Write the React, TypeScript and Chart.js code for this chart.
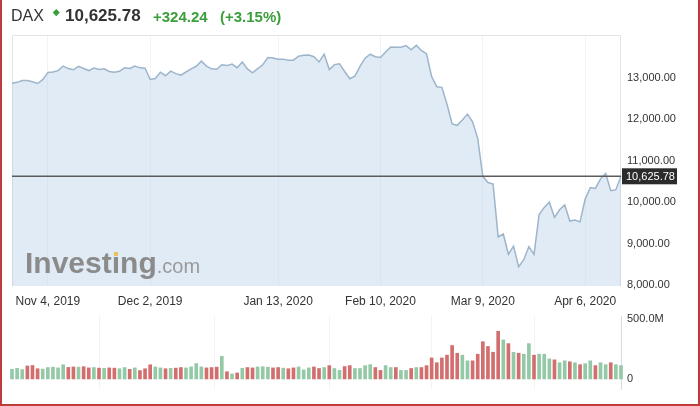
import React, { useEffect, useRef } from "react";
import { Chart, registerables } from "chart.js";

Chart.register(...registerables);

// ---- data ----
const tradingDays: [string, number[]][] = [
  ["2019-10", [24, 25, 28, 29, 30, 31]],
  ["2019-11", [1, 4, 5, 6, 7, 8, 11, 12, 13, 14, 15, 18, 19, 20, 21, 22, 25, 26, 27, 28, 29]],
  ["2019-12", [2, 3, 4, 5, 6, 9, 10, 11, 12, 13, 16, 17, 18, 19, 20, 23, 27, 30]],
  ["2020-01", [2, 3, 6, 7, 8, 9, 10, 13, 14, 15, 16, 17, 20, 21, 22, 23, 24, 27, 28, 29, 30, 31]],
  ["2020-02", [3, 4, 5, 6, 7, 10, 11, 12, 13, 14, 17, 18, 19, 20, 21, 24, 25, 26, 27, 28]],
  ["2020-03", [2, 3, 4, 5, 6, 9, 10, 11, 12, 13, 16, 17, 18, 19, 20, 23, 24, 25, 26, 27, 30, 31]],
  ["2020-04", [1, 2, 3, 6, 7, 8, 9, 14, 15, 16, 17]],
];
const dates = tradingDays.flatMap(([m, ds]) => ds.map((d) => `${m}-${String(d).padStart(2, "0")}`));

const tickDates = ["2019-11-04", "2019-12-02", "2020-01-13", "2020-02-10", "2020-03-09", "2020-04-06"];
const tickLabels = ["Nov 4, 2019", "Dec 2, 2019", "Jan 13, 2020", "Feb 10, 2020", "Mar 9, 2020", "Apr 6, 2020"];

const closes = [
  12872, 12895, 12941, 12939, 12910, 12867, 12961, 13136, 13148, 13179,
  13289, 13228, 13198, 13283, 13230, 13180, 13241, 13207, 13221, 13158,
  13137, 13163, 13246, 13232, 13287, 13245, 13236, 12965, 12989, 13140,
  13055, 13167, 13106, 13071, 13145, 13222, 13283, 13407, 13288, 13222,
  13212, 13319, 13300, 13337, 13249, 13386, 13219, 13127, 13227, 13321,
  13495, 13483, 13452, 13456, 13432, 13430, 13526, 13549, 13556, 13515,
  13389, 13577, 13205, 13324, 13345, 13158, 12982, 13046, 13282, 13479,
  13575, 13514, 13494, 13627, 13750, 13745, 13745, 13784, 13681, 13789,
  13665, 13580, 13035, 12790, 12775, 12367, 11890, 11857, 11986, 12128,
  11944, 11542, 10625, 10475, 10439, 9161, 9232, 8742, 8939, 8442,
  8610, 8929, 8742, 9701, 9875, 10001, 9633, 9816, 9936, 9544,
  9571, 9526, 10075, 10356, 10333, 10565, 10697, 10280, 10302, 10625.78,
];

// volume in millions
const volumes = [
  80, 88, 78, 108, 112, 85, 82, 95, 98, 92,
  118, 96, 100, 98, 102, 92, 95, 90, 88, 92,
  90, 85, 95, 80, 92, 70, 85, 118, 100, 92,
  85, 88, 90, 95, 92, 100, 128, 100, 92, 95,
  98, 188, 60, 42, 50, 88, 95, 92, 100, 102,
  98, 92, 95, 90, 85, 92, 100, 75, 92, 100,
  87, 95, 111, 87, 71, 103, 111, 87, 87, 111,
  119, 95, 71, 111, 95, 95, 71, 71, 87, 95,
  95, 111, 175, 135, 175, 198, 278, 214, 198, 151,
  151, 206, 310, 270, 222, 397, 325, 294, 222, 214,
  206, 294, 198, 206, 206, 167, 159, 135, 151, 143,
  135, 119, 127, 151, 111, 135, 119, 135, 119, 111,
];

const priceTicks = [8000, 9000, 10000, 11000, 12000, 13000];
const volumeTicks = [0, 500];

const symbol = "DAX";
const lastPrice = 10625.78;
const change = 324.24;
const changePct = 3.15;

const FONT = "Arial, 'Liberation Sans', Helvetica, sans-serif";
const GREEN = "#3a9f3a";

const fmt2 = (v: number) =>
  v.toLocaleString("en-US", { minimumFractionDigits: 2, maximumFractionDigits: 2 });

export default function App() {
  const priceRef = useRef<HTMLCanvasElement>(null);
  const volRef = useRef<HTMLCanvasElement>(null);

  useEffect(() => {
    Chart.defaults.font.family = FONT;
    Chart.defaults.color = "#333";
    const tickIdx = tickDates.map((d) => dates.indexOf(d));
    const setXTicks = (scale: any) => {
      scale.ticks = tickIdx.map((v) => ({ value: v }));
    };

    const framePlugin = {
      id: "frameAndLast",
      beforeDatasetsDraw(chart: any) {
        const { ctx, chartArea } = chart;
        ctx.save();
        ctx.strokeStyle = "#e3e3e3";
        ctx.lineWidth = 1;
        ctx.beginPath();
        ctx.moveTo(chartArea.left + 0.5, chartArea.bottom);
        ctx.lineTo(chartArea.left + 0.5, chartArea.top + 0.5);
        ctx.lineTo(chartArea.right - 0.5, chartArea.top + 0.5);
        ctx.lineTo(chartArea.right - 0.5, chartArea.bottom);
        ctx.stroke();
        ctx.restore();
      },
      afterDatasetsDraw(chart: any) {
        const { ctx, chartArea } = chart;
        const y = chart.scales.y.getPixelForValue(lastPrice);
        ctx.save();
        ctx.strokeStyle = "#5c5c5c";
        ctx.lineWidth = 1.6;
        ctx.beginPath();
        ctx.moveTo(chartArea.left, y);
        ctx.lineTo(chartArea.right, y);
        ctx.stroke();
        ctx.fillStyle = "#2b2b2b";
        ctx.fillRect(chartArea.right + 1, y - 8, 55, 16);
        ctx.fillStyle = "#ffffff";
        ctx.font = `11px ${FONT}`;
        ctx.textAlign = "left";
        ctx.textBaseline = "middle";
        ctx.fillText(fmt2(lastPrice), chartArea.right + 5, y + 0.5);
        ctx.restore();
      },
    };

    const priceChart = new Chart(priceRef.current!, {
      type: "line",
      data: {
        labels: dates,
        datasets: [
          {
            data: closes,
            borderColor: "#9db5cb",
            borderWidth: 1.5,
            backgroundColor: "rgba(176,203,230,0.38)",
            fill: "start",
            pointRadius: 0,
            tension: 0,
          },
        ],
      },
      options: {
        animation: false,
        responsive: false,
        devicePixelRatio: 1,
        layout: { padding: { left: 12, top: 35, right: 0, bottom: 0 } },
        plugins: { legend: { display: false }, tooltip: { enabled: false } },
        scales: {
          x: {
            type: "category",
            offset: false,
            afterBuildTicks: setXTicks,
            afterFit: (s: any) => {
              s.height = 26;
            },
            grid: { color: "#f1f4f7", drawTicks: false },
            border: { display: false },
            ticks: {
              autoSkip: false,
              maxRotation: 0,
              padding: 8,
              color: "#333",
              font: { size: 12 },
              callback: (v: any) => tickLabels[tickIdx.indexOf(Number(v))],
            },
          },
          y: {
            position: "right",
            min: 7976,
            max: 14039,
            afterBuildTicks: (s: any) => {
              s.ticks = priceTicks.map((v) => ({ value: v }));
            },
            afterFit: (s: any) => {
              s.width = 79;
            },
            grid: { display: false, drawTicks: false },
            border: { display: false },
            ticks: {
              padding: 6,
              color: "#333",
              font: { size: 11 },
              callback: (v: any) => fmt2(Number(v)),
            },
          },
        },
      },
      plugins: [framePlugin],
    });

    const volChart = new Chart(volRef.current!, {
      type: "bar",
      data: {
        labels: dates,
        datasets: [
          {
            data: volumes,
            backgroundColor: volumes.map((_, i) =>
              i === 0 || closes[i] >= closes[i - 1] ? "#94c9a7" : "#d26e6e"
            ),
            barThickness: 3,
            clip: false as any,
          },
        ],
      },
      options: {
        animation: false,
        responsive: false,
        devicePixelRatio: 1,
        layout: { padding: { left: 12, top: 14, right: 0, bottom: 5 } },
        plugins: { legend: { display: false }, tooltip: { enabled: false } },
        scales: {
          x: {
            type: "category",
            offset: false,
            afterBuildTicks: setXTicks,
            afterFit: (s: any) => {
              s.height = 0;
            },
            grid: { color: "#f3f3f3", drawTicks: false },
            border: { display: false },
            ticks: { display: false },
          },
          y: {
            position: "right",
            min: -87,
            max: 524,
            afterBuildTicks: (s: any) => {
              s.ticks = volumeTicks.map((v) => ({ value: v }));
            },
            afterFit: (s: any) => {
              s.width = 79;
            },
            grid: { display: false, drawTicks: false },
            border: { display: true, color: "#d3dbe5" },
            ticks: {
              padding: 6,
              color: "#333",
              font: { size: 11 },
              callback: (v: any) => (Number(v) === 0 ? "0" : Number(v).toFixed(1) + "M"),
            },
          },
        },
      },
    });

    return () => {
      priceChart.destroy();
      volChart.destroy();
    };
  }, []);

  return (
    <div
      style={{
        position: "fixed",
        left: 0,
        top: 0,
        width: 700,
        height: 406,
        background: "#fff",
        overflow: "hidden",
        fontFamily: FONT,
      }}
    >
      <canvas ref={priceRef} width={700} height={312} style={{ position: "absolute", left: 0, top: 0 }} />
      <canvas ref={volRef} width={700} height={100} style={{ position: "absolute", left: 0, top: 302 }} />

      {/* header */}
      <div style={{ position: "absolute", left: 11, top: 7.7, fontSize: 16, lineHeight: 1, color: "#333", whiteSpace: "nowrap" }}>
        {symbol}
      </div>
      <div
        style={{
          position: "absolute",
          left: 54,
          top: 9.5,
          width: 4.5,
          height: 4.5,
          background: GREEN,
          transform: "rotate(45deg)",
        }}
      />
      <div style={{ position: "absolute", left: 65, top: 6.9, fontSize: 17, fontWeight: "bold", lineHeight: 1, color: "#333", whiteSpace: "nowrap" }}>
        {fmt2(lastPrice)}
      </div>
      <div style={{ position: "absolute", left: 153, top: 8.5, fontSize: 15, fontWeight: "bold", lineHeight: 1, color: GREEN, whiteSpace: "nowrap" }}>
        +{fmt2(change)}
      </div>
      <div style={{ position: "absolute", left: 220, top: 8.5, fontSize: 15, fontWeight: "bold", lineHeight: 1, color: GREEN, whiteSpace: "nowrap" }}>
        (+{changePct.toFixed(2)}%)
      </div>

      {/* watermark */}
      <div
        style={{
          position: "absolute",
          left: 25,
          top: 248,
          lineHeight: "30px",
          whiteSpace: "nowrap",
          pointerEvents: "none",
        }}
      >
        <span style={{ fontSize: 30, fontWeight: "bold", color: "#8b8b8b" }}>
          Invest
          <span style={{ position: "relative" }}>
            ı
            <span
              style={{
                position: "absolute",
                left: "0.075em",
                top: "0.19em",
                width: "0.14em",
                height: "0.14em",
                background: "#e8c35c",
              }}
            />
          </span>
          ng
        </span>
        <span style={{ fontSize: 20, color: "#9a9a9a" }}>.com</span>
      </div>

      {/* outer frame */}
      <div
        style={{
          position: "absolute",
          left: 0,
          top: 0,
          width: 700,
          height: 406,
          boxSizing: "border-box",
          borderLeft: "2px solid #bf3b3b",
          borderRight: "2px solid #bf3b3b",
          borderBottom: "2px solid #bf3b3b",
          pointerEvents: "none",
        }}
      />
    </div>
  );
}
